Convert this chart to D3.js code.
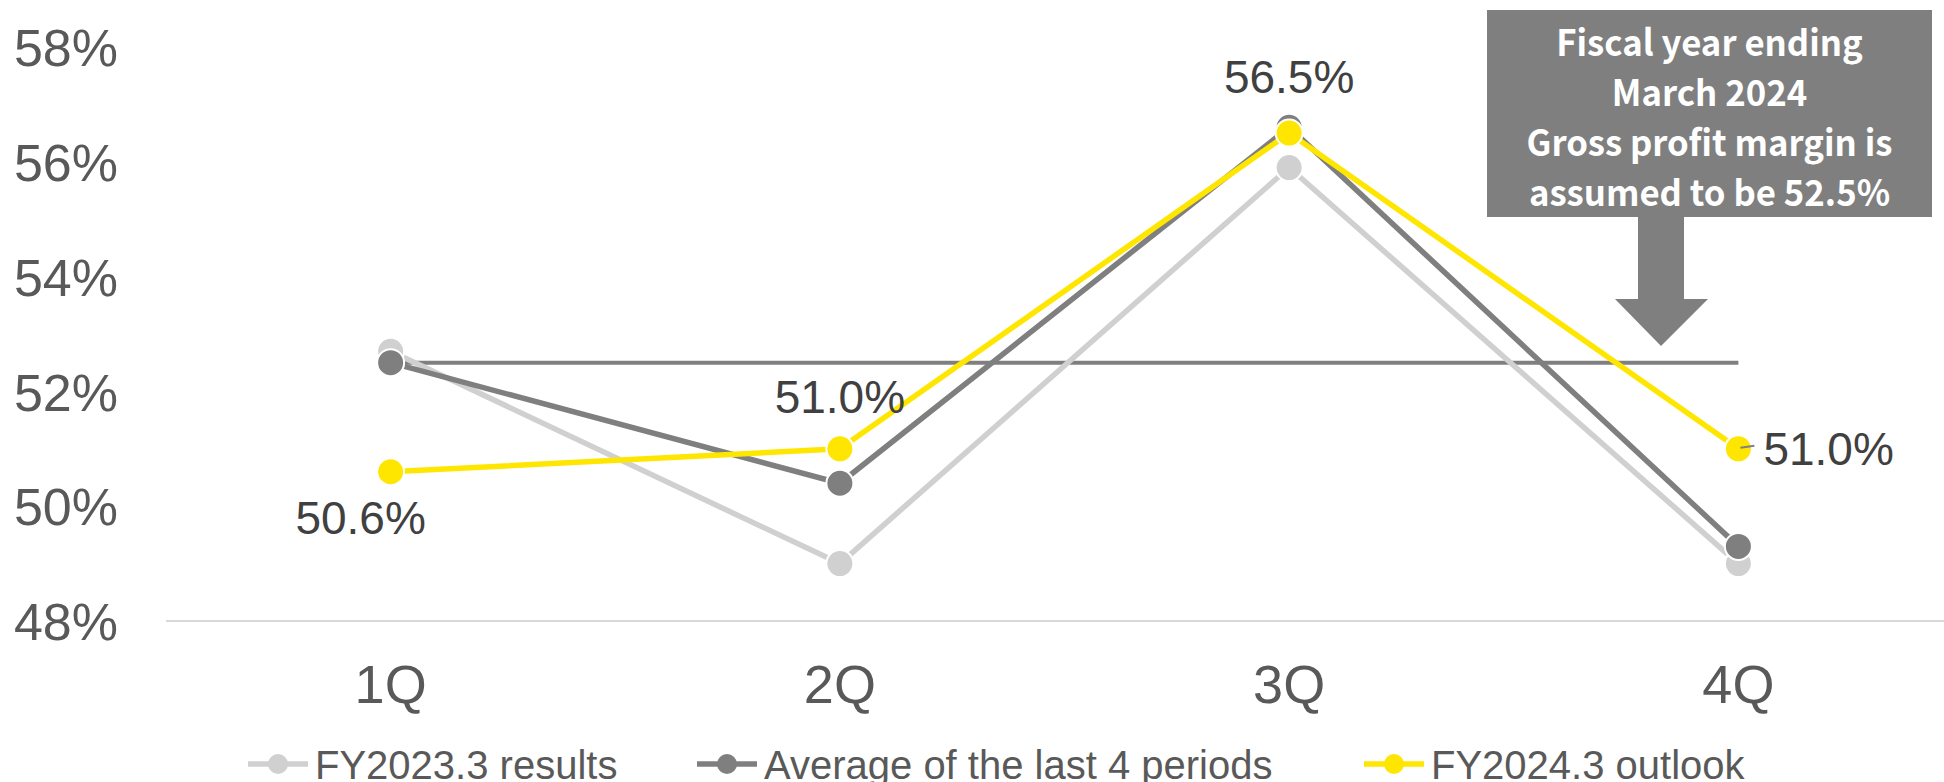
<!DOCTYPE html>
<html><head><meta charset="utf-8">
<script src="https://cdn.jsdelivr.net/npm/d3@7"></script>
<style>html,body{margin:0;padding:0;background:#fff;overflow:hidden}</style>
</head><body>
<svg id="c" width="1944" height="782"></svg>
<script>
const quarters = ["1Q","2Q","3Q","4Q"];
const yTicks = [48,50,52,54,56,58];
const fy2023 = [52.7, 49.0, 55.9, 49.0];
const avg4 = [52.5, 50.4, 56.6, 49.3];
const fy2024 = [50.6, 51.0, 56.5, 51.0];
const assumed = 52.5;
const seriesNames = ["FY2023.3 results","Average of the last 4 periods","FY2024.3 outlook"];
const noteLines = ["Fiscal year ending","March 2024","Gross profit margin is","assumed to be 52.5%"];

const svg = d3.select("#c");
const x = d3.scaleBand().domain(quarters).range([166, 1963]);
const cx = q => x(q) + x.bandwidth()/2;
const y = d3.scaleLinear().domain([48,58]).range([621, 47]);
const font = "Liberation Sans, Arial, sans-serif";

// baseline gridline
svg.append("line").attr("x1",166).attr("x2",1944).attr("y1",y(48)).attr("y2",y(48))
  .attr("stroke","#d9d9d9").attr("stroke-width",2);

// y axis labels
const ya = svg.append("g").attr("transform","translate(118,0)")
  .call(d3.axisLeft(y).tickValues(yTicks).tickSize(0).tickPadding(0).tickFormat(d=>d+"%"));
ya.select(".domain").remove();
ya.selectAll("text").attr("font-family",font).attr("font-size",52).attr("fill","#595959").attr("dy","0.36em");

// x axis labels
const xa = svg.append("g").attr("transform","translate(0,"+684+")")
  .call(d3.axisBottom(x).tickSize(0).tickPadding(0));
xa.select(".domain").remove();
xa.selectAll("text").attr("font-family",font).attr("font-size",54).attr("fill","#595959").attr("dy","0.36em");

// assumption line
svg.append("line").attr("x1",cx("1Q")).attr("x2",cx("4Q")).attr("y1",y(assumed)).attr("y2",y(assumed))
  .attr("stroke","#7f7f7f").attr("stroke-width",4);

const series = [
  {name:seriesNames[0], vals:fy2023, color:"#d0d0d0"},
  {name:seriesNames[1], vals:avg4, color:"#7f7f7f"},
  {name:seriesNames[2], vals:fy2024, color:"#ffe600"}
];
const line = d3.line().x((d,i)=>cx(quarters[i])).y(d=>y(d));
series.forEach(s=>{
  const g = svg.append("g");
  g.append("path").attr("d",line(s.vals)).attr("fill","none").attr("stroke",s.color).attr("stroke-width",5.5).attr("stroke-linejoin","round");
  g.selectAll("circle").data(s.vals).join("circle")
    .attr("cx",(d,i)=>cx(quarters[i])).attr("cy",d=>y(d)).attr("r",13.5)
    .attr("fill",s.color).attr("stroke","#fff").attr("stroke-width",2);
});

// data labels for outlook
const lblStyle = t => t.attr("font-family",font).attr("font-size",46).attr("fill","#404040");
svg.append("text").text(fy2024[0].toFixed(1)+"%").attr("x",cx("1Q")-30).attr("y",y(fy2024[0])+62).attr("text-anchor","middle").call(lblStyle);
svg.append("text").text(fy2024[1].toFixed(1)+"%").attr("x",cx("2Q")).attr("y",y(fy2024[1])-36).attr("text-anchor","middle").call(lblStyle);
svg.append("text").text(fy2024[2].toFixed(1)+"%").attr("x",cx("3Q")).attr("y",y(fy2024[2])-40).attr("text-anchor","middle").call(lblStyle);
svg.append("line").attr("x1",cx("4Q")+2).attr("x2",cx("4Q")+16).attr("y1",y(fy2024[3])-1).attr("y2",y(fy2024[3])-3)
  .attr("stroke","#7f7f7f").attr("stroke-width",2);
svg.append("text").text(fy2024[3].toFixed(1)+"%").attr("x",cx("4Q")+25).attr("y",y(fy2024[3])+16).attr("text-anchor","start").call(lblStyle);

// annotation box
const bx0=1487, bx1=1932, by0=10, by1=217;
svg.append("rect").attr("x",bx0).attr("y",by0).attr("width",bx1-bx0).attr("height",by1-by0).attr("fill","#7f7f7f");
svg.append("path").attr("d",`M1638,${by1} L1684,${by1} L1684,299 L1708,299 L1661,346 L1615,299 L1638,299 Z`).attr("fill","#7f7f7f");
const nt = svg.append("g").selectAll("text").data(noteLines).join("text")
  .text(d=>d).attr("x",(bx0+bx1)/2).attr("y",(d,i)=>56+i*50)
  .attr("text-anchor","middle").attr("font-family","'Noto Sans CJK JP', 'Noto Sans', sans-serif")
  .attr("font-weight","bold").attr("font-size",36).attr("fill","#fff");
const ref = nt.nodes()[2].getComputedTextLength();
const k = 366/ref;
nt.each(function(){ const w=this.getComputedTextLength(); d3.select(this).attr("textLength",w*k).attr("lengthAdjust","spacingAndGlyphs"); });

// legend
const legX = [248, 697, 1364];
series.forEach((s,i)=>{
  const g = svg.append("g");
  g.append("line").attr("x1",legX[i]).attr("x2",legX[i]+60).attr("y1",764).attr("y2",764).attr("stroke",s.color).attr("stroke-width",5.5);
  g.append("circle").attr("cx",legX[i]+30).attr("cy",764).attr("r",10).attr("fill",s.color);
  g.append("text").text(s.name).attr("x",legX[i]+67).attr("y",779).attr("font-family",font).attr("font-size",40).attr("fill","#595959");
});
</script>
</body></html>
